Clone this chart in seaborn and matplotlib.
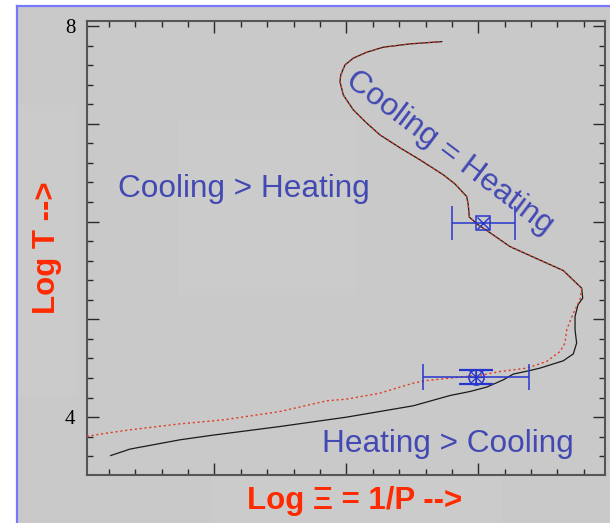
import matplotlib
matplotlib.use("Agg")
import matplotlib.pyplot as plt
import seaborn as sns
import pandas as pd
from matplotlib.patches import Rectangle
from matplotlib.lines import Line2D
from matplotlib.ticker import MultipleLocator, FixedLocator, FixedFormatter

# ---------------- data ----------------
black_logxi = [0.215, 0.361, 0.740, 0.992, 1.498, 2.003, 2.508, 2.786, 2.937, 3.064,
               3.189, 3.265, 3.379, 3.467, 3.644, 3.720, 3.745, 3.733, 3.733, 3.755,
               3.791, 3.783, 3.644, 3.492, 3.240, 3.076, 3.000, 2.932, 2.924, 2.912,
               2.823, 2.735, 2.558, 2.407, 2.255, 2.155, 2.053, 1.977, 1.952, 1.958,
               1.990, 2.053, 2.155, 2.280, 2.483, 2.723]
black_logT = [3.607, 3.673, 3.768, 3.816, 3.904, 4.000, 4.116, 4.221, 4.262, 4.307,
              4.381, 4.440, 4.473, 4.501, 4.576, 4.647, 4.757, 4.893, 5.029, 5.148,
              5.217, 5.319, 5.499, 5.591, 5.744, 5.898, 5.966, 6.045, 6.171, 6.256,
              6.385, 6.478, 6.631, 6.754, 6.886, 7.006, 7.142, 7.295, 7.431, 7.500,
              7.602, 7.671, 7.732, 7.783, 7.817, 7.840]

red_logxi_low = [0.033, 0.185, 0.361, 0.740, 1.069, 1.498, 1.852, 2.003, 2.255, 2.382,
                 2.508, 2.609, 2.786, 3.038, 3.164, 3.367, 3.518, 3.619, 3.657, 3.670,
                 3.720, 3.770]
red_logT_low = [3.804, 3.836, 3.870, 3.931, 3.972, 4.057, 4.167, 4.184, 4.245, 4.297,
                4.348, 4.374, 4.399, 4.433, 4.466, 4.501, 4.569, 4.671, 4.757, 4.893,
                5.063, 5.199]
shared_from = 21  # red curve follows the black one above this point

obs_logxi = [3.039, 2.983]
obs_logT = [5.982, 4.409]
obs_xerr = [0.242, 0.400]
obs_yerr = [0.0, 0.068]

ytick_values = [4, 5, 6, 7, 8]
ytick_labels = ["4", "", "", "", "8"]

# ---------------- style ----------------
GREY = "#c9c9c9"
GREY2 = "#cbcbcb"
BLUE_TXT = "#4249b2"
BLUE_BAR = "#2636cc"
RED_LBL = "#ff2a00"

fig = plt.figure(figsize=(6.10, 5.23), dpi=100, facecolor="white")
W, H = 610.0, 523.0


def pxrect(x0, y0, w, h, color, z):
    """rectangle given in top-left pixel coordinates"""
    return Rectangle((x0 / W, 1 - (y0 + h) / H), w / W, h / H,
                     transform=fig.transFigure, facecolor=color,
                     edgecolor="none", zorder=z)


# grey panel with blue border on left/top
fig.add_artist(pxrect(17, 6, 593, 517, GREY, 0))
for (x0, y0, w, h) in [(18, 105, 59, 290), (212, 473, 290, 50)]:
    fig.add_artist(pxrect(x0, y0, w, h, GREY2, 0.5))
fig.add_artist(Line2D([17 / W, 17 / W], [0, 1 - 6 / H], transform=fig.transFigure,
                      color="#7878ff", lw=1.6, zorder=1))
fig.add_artist(Line2D([17 / W, 1], [1 - 6 / H, 1 - 6 / H], transform=fig.transFigure,
                      color="#7878ff", lw=1.6, zorder=1))
fig.add_artist(pxrect(178, 120, 177, 175, GREY2, 0.6))

ax = fig.add_axes([86.7 / W, 1 - 475 / H, (605 - 86.7) / W, (475 - 20.7) / H])
ax.set_facecolor("none")
ax.set_zorder(2)

black_df = pd.DataFrame({"logxi": black_logxi, "logT": black_logT})
red_df = pd.DataFrame({"logxi": red_logxi_low + black_logxi[shared_from:],
                       "logT": red_logT_low + black_logT[shared_from:]})

sns.lineplot(data=black_df, x="logxi", y="logT", sort=False, estimator=None,
             color="#1a1a1a", lw=0.9, ax=ax, zorder=3)
sns.lineplot(data=red_df, x="logxi", y="logT", sort=False, estimator=None,
             color="#e03a20", lw=1.0, ax=ax, zorder=4, linestyle=(0, (1.5, 2.0)))

# observational points
ax.errorbar(obs_logxi[0], obs_logT[0], xerr=obs_xerr[0], fmt="none", ecolor=BLUE_BAR,
            elinewidth=1.1, capsize=12, capthick=1.1, zorder=5)
ax.plot(obs_logxi[0], obs_logT[0], marker="s", ms=10, mfc="none", mec=BLUE_BAR,
        mew=1.1, zorder=6)
ax.plot(obs_logxi[0], obs_logT[0], marker="x", ms=9, mec=BLUE_BAR, mew=1.0, zorder=6)

ax.errorbar(obs_logxi[1], obs_logT[1], xerr=obs_xerr[1], fmt="none", ecolor=BLUE_BAR,
            elinewidth=1.1, capsize=9.5, capthick=1.1, zorder=5)
ax.errorbar(obs_logxi[1], obs_logT[1], yerr=obs_yerr[1], fmt="none", ecolor=BLUE_BAR,
            elinewidth=1.1, capsize=12, capthick=1.6, zorder=5)
ax.plot(obs_logxi[1], obs_logT[1], marker="o", ms=11, mfc="none", mec=BLUE_BAR,
        mew=1.1, zorder=6)
for m in ["+", "x"]:
    ax.plot(obs_logxi[1], obs_logT[1], marker=m, ms=10, mec=BLUE_BAR, mew=0.9, zorder=6)

# axes limits and ticks
ax.set_xlim(0.033, 3.960)
ax.set_ylim(3.408, 8.054)
ax.xaxis.set_major_locator(MultipleLocator(1))
ax.xaxis.set_minor_locator(MultipleLocator(0.2))
ax.yaxis.set_major_locator(FixedLocator(ytick_values))
ax.yaxis.set_major_formatter(FixedFormatter(ytick_labels))
ax.yaxis.set_minor_locator(MultipleLocator(0.2))
ax.tick_params(which="both", direction="in", top=True, right=True, color="#2a2a2a",
               width=1.0, labelbottom=False)
ax.tick_params(which="major", length=8.5, pad=8)
ax.tick_params(which="minor", length=4.6)
ax.tick_params(axis="y", labelsize=15, labelcolor="black")
for lab in ax.get_yticklabels():
    lab.set_family(["Liberation Serif", "DejaVu Serif"])
for s in ax.spines.values():
    s.set_color("#555555")
    s.set_linewidth(1.5)
ax.set_xlabel("")
ax.set_ylabel("")

# annotations
FONT = ["Liberation Sans", "DejaVu Sans"]
ax.text(0.273, 6.256, "Cooling > Heating", fontsize=22.7, color=BLUE_TXT,
        family=FONT, ha="left", va="baseline", zorder=7)
ax.text(1.814, 3.648, "Heating > Cooling", fontsize=22.7, color=BLUE_TXT,
        family=FONT, ha="left", va="baseline", zorder=7)
ax.text(2.748, 6.635, "Cooling = Heating", fontsize=22.7, color=BLUE_TXT,
        family=FONT, ha="center", va="baseline", rotation=-37,
        rotation_mode="anchor", zorder=7)

fig.text(47 / W, 1 - 248 / H, "Log T -->", fontsize=22.5, fontweight="bold",
         color=RED_LBL, family=FONT, rotation=90, ha="center", va="center")
fig.text(246.7 / W, 1 - 509.3 / H, "Log \u039e = 1/P -->", fontsize=22.5,
         fontweight="bold", color=RED_LBL, family=FONT, ha="left", va="baseline")

fig.savefig("out.png", dpi=100, facecolor="white")
